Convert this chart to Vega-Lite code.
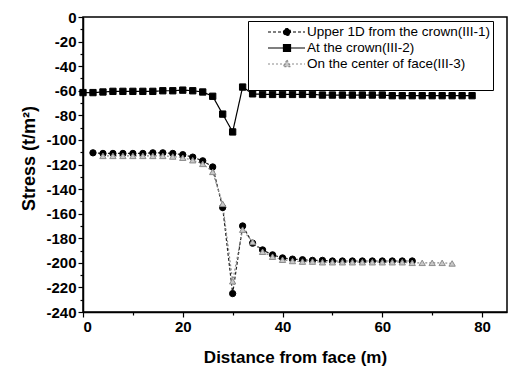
{
  "$schema": "https://vega.github.io/schema/vega-lite/v6.json",
  "width": 424,
  "height": 295,
  "autosize": {"type": "none"},
  "padding": {"left": 83, "top": 17, "right": 4, "bottom": 54},
  "background": "white",
  "config": {
    "view": {"stroke": "black", "strokeWidth": 1.5},
    "font": "Liberation Sans",
    "axis": {
      "domainColor": "black",
      "domainWidth": 1.5,
      "tickColor": "black",
      "tickWidth": 1.2,
      "labelFont": "Liberation Sans",
      "labelFontWeight": "bold",
      "labelFontSize": 15,
      "labelColor": "black",
      "titleFont": "Liberation Sans",
      "titleFontSize": 17,
      "titleFontWeight": "bold",
      "titleColor": "black",
      "grid": false
    }
  },
  "datasets": {
    "points": [
      {"series": "Upper 1D from the crown(III-1)", "x": 2, "y": -110.5},
      {"series": "Upper 1D from the crown(III-1)", "x": 4, "y": -111},
      {"series": "Upper 1D from the crown(III-1)", "x": 6, "y": -111},
      {"series": "Upper 1D from the crown(III-1)", "x": 8, "y": -111},
      {"series": "Upper 1D from the crown(III-1)", "x": 10, "y": -111},
      {"series": "Upper 1D from the crown(III-1)", "x": 12, "y": -111},
      {"series": "Upper 1D from the crown(III-1)", "x": 14, "y": -110.5},
      {"series": "Upper 1D from the crown(III-1)", "x": 16, "y": -110.5},
      {"series": "Upper 1D from the crown(III-1)", "x": 18, "y": -111},
      {"series": "Upper 1D from the crown(III-1)", "x": 20, "y": -112},
      {"series": "Upper 1D from the crown(III-1)", "x": 22, "y": -114},
      {"series": "Upper 1D from the crown(III-1)", "x": 24, "y": -117},
      {"series": "Upper 1D from the crown(III-1)", "x": 26, "y": -122},
      {"series": "Upper 1D from the crown(III-1)", "x": 28, "y": -155},
      {"series": "Upper 1D from the crown(III-1)", "x": 30, "y": -225},
      {"series": "Upper 1D from the crown(III-1)", "x": 32, "y": -170},
      {"series": "Upper 1D from the crown(III-1)", "x": 34, "y": -184},
      {"series": "Upper 1D from the crown(III-1)", "x": 36, "y": -189.5},
      {"series": "Upper 1D from the crown(III-1)", "x": 38, "y": -193.5},
      {"series": "Upper 1D from the crown(III-1)", "x": 40, "y": -196},
      {"series": "Upper 1D from the crown(III-1)", "x": 42, "y": -197},
      {"series": "Upper 1D from the crown(III-1)", "x": 44, "y": -197.5},
      {"series": "Upper 1D from the crown(III-1)", "x": 46, "y": -198},
      {"series": "Upper 1D from the crown(III-1)", "x": 48, "y": -198},
      {"series": "Upper 1D from the crown(III-1)", "x": 50, "y": -198.5},
      {"series": "Upper 1D from the crown(III-1)", "x": 52, "y": -198.5},
      {"series": "Upper 1D from the crown(III-1)", "x": 54, "y": -198.5},
      {"series": "Upper 1D from the crown(III-1)", "x": 56, "y": -198.5},
      {"series": "Upper 1D from the crown(III-1)", "x": 58, "y": -198.5},
      {"series": "Upper 1D from the crown(III-1)", "x": 60, "y": -198.5},
      {"series": "Upper 1D from the crown(III-1)", "x": 62, "y": -198.5},
      {"series": "Upper 1D from the crown(III-1)", "x": 64, "y": -198.5},
      {"series": "Upper 1D from the crown(III-1)", "x": 66, "y": -198.5},
      {"series": "At the crown(III-2)", "x": 0, "y": -61.5},
      {"series": "At the crown(III-2)", "x": 2, "y": -61.5},
      {"series": "At the crown(III-2)", "x": 4, "y": -61},
      {"series": "At the crown(III-2)", "x": 6, "y": -60.5},
      {"series": "At the crown(III-2)", "x": 8, "y": -60.5},
      {"series": "At the crown(III-2)", "x": 10, "y": -60.5},
      {"series": "At the crown(III-2)", "x": 12, "y": -60.5},
      {"series": "At the crown(III-2)", "x": 14, "y": -60.5},
      {"series": "At the crown(III-2)", "x": 16, "y": -60},
      {"series": "At the crown(III-2)", "x": 18, "y": -60},
      {"series": "At the crown(III-2)", "x": 20, "y": -59.5},
      {"series": "At the crown(III-2)", "x": 22, "y": -60},
      {"series": "At the crown(III-2)", "x": 24, "y": -61},
      {"series": "At the crown(III-2)", "x": 26, "y": -64.5},
      {"series": "At the crown(III-2)", "x": 28, "y": -79},
      {"series": "At the crown(III-2)", "x": 30, "y": -93.5},
      {"series": "At the crown(III-2)", "x": 32, "y": -57},
      {"series": "At the crown(III-2)", "x": 34, "y": -62.5},
      {"series": "At the crown(III-2)", "x": 36, "y": -63},
      {"series": "At the crown(III-2)", "x": 38, "y": -63},
      {"series": "At the crown(III-2)", "x": 40, "y": -63},
      {"series": "At the crown(III-2)", "x": 42, "y": -63},
      {"series": "At the crown(III-2)", "x": 44, "y": -63},
      {"series": "At the crown(III-2)", "x": 46, "y": -63},
      {"series": "At the crown(III-2)", "x": 48, "y": -63.5},
      {"series": "At the crown(III-2)", "x": 50, "y": -63.5},
      {"series": "At the crown(III-2)", "x": 52, "y": -63.5},
      {"series": "At the crown(III-2)", "x": 54, "y": -63.5},
      {"series": "At the crown(III-2)", "x": 56, "y": -63.5},
      {"series": "At the crown(III-2)", "x": 58, "y": -63.5},
      {"series": "At the crown(III-2)", "x": 60, "y": -63.5},
      {"series": "At the crown(III-2)", "x": 62, "y": -64},
      {"series": "At the crown(III-2)", "x": 64, "y": -64},
      {"series": "At the crown(III-2)", "x": 66, "y": -64},
      {"series": "At the crown(III-2)", "x": 68, "y": -64},
      {"series": "At the crown(III-2)", "x": 70, "y": -64},
      {"series": "At the crown(III-2)", "x": 72, "y": -64},
      {"series": "At the crown(III-2)", "x": 74, "y": -64},
      {"series": "At the crown(III-2)", "x": 76, "y": -64},
      {"series": "At the crown(III-2)", "x": 78, "y": -64},
      {"series": "On the center of face(III-3)", "x": 4, "y": -113},
      {"series": "On the center of face(III-3)", "x": 6, "y": -113},
      {"series": "On the center of face(III-3)", "x": 8, "y": -113},
      {"series": "On the center of face(III-3)", "x": 10, "y": -113},
      {"series": "On the center of face(III-3)", "x": 12, "y": -113},
      {"series": "On the center of face(III-3)", "x": 14, "y": -113},
      {"series": "On the center of face(III-3)", "x": 16, "y": -113},
      {"series": "On the center of face(III-3)", "x": 18, "y": -113.5},
      {"series": "On the center of face(III-3)", "x": 20, "y": -114.5},
      {"series": "On the center of face(III-3)", "x": 22, "y": -116.5},
      {"series": "On the center of face(III-3)", "x": 24, "y": -119.5},
      {"series": "On the center of face(III-3)", "x": 26, "y": -126},
      {"series": "On the center of face(III-3)", "x": 28, "y": -152},
      {"series": "On the center of face(III-3)", "x": 30, "y": -215},
      {"series": "On the center of face(III-3)", "x": 32, "y": -173},
      {"series": "On the center of face(III-3)", "x": 34, "y": -183},
      {"series": "On the center of face(III-3)", "x": 36, "y": -191},
      {"series": "On the center of face(III-3)", "x": 38, "y": -195},
      {"series": "On the center of face(III-3)", "x": 40, "y": -197.5},
      {"series": "On the center of face(III-3)", "x": 42, "y": -198.5},
      {"series": "On the center of face(III-3)", "x": 44, "y": -199},
      {"series": "On the center of face(III-3)", "x": 46, "y": -199},
      {"series": "On the center of face(III-3)", "x": 48, "y": -199.5},
      {"series": "On the center of face(III-3)", "x": 50, "y": -199.5},
      {"series": "On the center of face(III-3)", "x": 52, "y": -199.5},
      {"series": "On the center of face(III-3)", "x": 54, "y": -199.5},
      {"series": "On the center of face(III-3)", "x": 56, "y": -199.5},
      {"series": "On the center of face(III-3)", "x": 58, "y": -199.5},
      {"series": "On the center of face(III-3)", "x": 60, "y": -199.5},
      {"series": "On the center of face(III-3)", "x": 62, "y": -199.5},
      {"series": "On the center of face(III-3)", "x": 64, "y": -199.5},
      {"series": "On the center of face(III-3)", "x": 66, "y": -200},
      {"series": "On the center of face(III-3)", "x": 68, "y": -200},
      {"series": "On the center of face(III-3)", "x": 70, "y": -200},
      {"series": "On the center of face(III-3)", "x": 72, "y": -200},
      {"series": "On the center of face(III-3)", "x": 74, "y": -200.5}
    ]
  },
  "data": {"name": "points"},
  "encoding": {
    "x": {
      "field": "x",
      "type": "quantitative",
      "scale": {"domain": [0, 85], "nice": false, "zero": false},
      "axis": {
        "title": "Distance from face (m)",
        "values": [0, 10, 20, 30, 40, 50, 60, 70, 80],
        "labelExpr": "datum.value % 20 === 0 ? '' + datum.value : ''",
        "tickSize": {"condition": {"test": "datum.value % 20 === 0", "value": 5}, "value": 3},
        "labelPadding": 2,
        "titlePadding": 15
      }
    },
    "y": {
      "field": "y",
      "type": "quantitative",
      "scale": {"domain": [-240, 0], "nice": false, "zero": false},
      "axis": {
        "title": "Stress (t/m²)",
        "titleFontSize": 18,
        "titleY": 141,
        "values": [-240, -230, -220, -210, -200, -190, -180, -170, -160, -150, -140, -130, -120, -110, -100, -90, -80, -70, -60, -50, -40, -30, -20, -10, 0],
        "labelExpr": "datum.value % 20 === 0 ? '' + datum.value : ''",
        "tickSize": {"condition": {"test": "datum.value % 20 === 0", "value": 5}, "value": 3},
        "labelPadding": 2,
        "titlePadding": 7
      }
    }
  },
  "resolve": {
    "scale": {"stroke": "independent", "fill": "independent", "shape": "independent", "strokeDash": "independent"},
    "legend": {"stroke": "independent", "fill": "independent", "shape": "independent", "strokeDash": "independent"}
  },
  "layer": [
    {
      "mark": {"type": "line", "strokeWidth": 1.2},
      "encoding": {
        "detail": {"field": "series"},
        "stroke": {
          "field": "series",
          "type": "nominal",
          "scale": {
            "domain": ["Upper 1D from the crown(III-1)", "At the crown(III-2)", "On the center of face(III-3)"],
            "range": ["#222222", "#000000", "#8c8c8c"]
          },
          "legend": null
        },
        "strokeDash": {
          "field": "series",
          "type": "nominal",
          "scale": {
            "domain": ["Upper 1D from the crown(III-1)", "At the crown(III-2)", "On the center of face(III-3)"],
            "range": [[3, 2], [1, 0], [2, 2]]
          },
          "legend": null
        }
      }
    },
    {
      "mark": {"type": "point", "filled": true, "size": 40, "strokeWidth": 1, "opacity": 1},
      "encoding": {
        "fill": {
          "field": "series",
          "type": "nominal",
          "scale": {
            "domain": ["Upper 1D from the crown(III-1)", "At the crown(III-2)", "On the center of face(III-3)"],
            "range": ["#000000", "#000000", "#c8c8c8"]
          },
          "legend": null
        },
        "stroke": {
          "field": "series",
          "type": "nominal",
          "scale": {
            "domain": ["Upper 1D from the crown(III-1)", "At the crown(III-2)", "On the center of face(III-3)"],
            "range": ["#000000", "#000000", "#8c8c8c"]
          },
          "legend": null
        },
        "shape": {
          "field": "series",
          "type": "nominal",
          "scale": {
            "domain": ["Upper 1D from the crown(III-1)", "At the crown(III-2)", "On the center of face(III-3)"],
            "range": ["circle", "square", "triangle-up"]
          },
          "legend": null
        }
      }
    },
    {
      "transform": [{"filter": "false"}],
      "mark": {"type": "point", "filled": true, "strokeWidth": 1.2, "opacity": 1},
      "encoding": {
        "fill": {
          "field": "series",
          "type": "nominal",
          "scale": {
            "domain": ["Upper 1D from the crown(III-1)", "At the crown(III-2)", "On the center of face(III-3)"],
            "range": ["#000000", "#000000", "#c8c8c8"]
          }
        },
        "stroke": {
          "field": "series",
          "type": "nominal",
          "scale": {
            "domain": ["Upper 1D from the crown(III-1)", "At the crown(III-2)", "On the center of face(III-3)"],
            "range": ["#000000", "#000000", "#8c8c8c"]
          }
        },
        "strokeDash": {
          "field": "series",
          "type": "nominal",
          "scale": {
            "domain": ["Upper 1D from the crown(III-1)", "At the crown(III-2)", "On the center of face(III-3)"],
            "range": [[3, 2], [1, 0], [2, 2]]
          }
        },
        "shape": {
          "field": "series",
          "type": "nominal",
          "scale": {
            "domain": ["Upper 1D from the crown(III-1)", "At the crown(III-2)", "On the center of face(III-3)"],
            "range": [
              "M1.125,0H5.75M3.06,0A0.44,0.44 0 1,0 3.94,0A0.44,0.44 0 1,0 3.06,0Z",
              "M1.125,0H5.75M3.06,-0.44H3.94V0.44H3.06Z",
              "M1.125,0H5.75M3.5,-0.5L3.97,0.33H3.03Z"
            ]
          },
          "legend": {
            "title": " ",
            "titleOrient": "bottom",
            "titleFontSize": 14,
            "titlePadding": 3,
            "orient": "none",
            "legendX": 165,
            "legendY": 4,
            "fillColor": "white",
            "strokeColor": "black",
            "padding": 2,
            "labelFont": "Liberation Sans",
            "labelFontSize": 13.5,
            "labelColor": "black",
            "labelLimit": 400,
            "labelOffset": 39,
            "labelExpr": "datum.label + '\u00a0\u00a0\u00a0\u00a0'",
            "rowPadding": 0,
            "symbolSize": 256,
            "symbolStrokeWidth": 1.2
          }
        }
      }
    }
  ]
}
